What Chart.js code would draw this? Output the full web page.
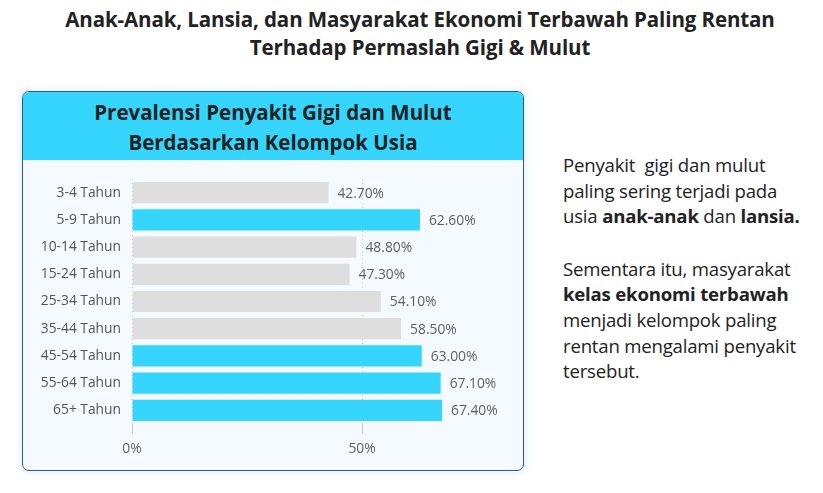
<!DOCTYPE html>
<html>
<head>
<meta charset="utf-8">
<script src="https://cdn.jsdelivr.net/npm/chart.js@4/dist/chart.umd.min.js"></script>
<style>
  html, body { margin: 0; padding: 0; background: #fff; }
  body { width: 823px; height: 493px; position: relative; overflow: hidden; font-family: "Open Sans", sans-serif; color: #222; }
  .title { position: absolute; left: 0; top: 5px; width: 840px; text-align: center; font-weight: 700; font-size: 20.5px; line-height: 28px; color: #222; letter-spacing: -0.1px; }
  .card { position: absolute; left: 22px; top: 91px; width: 500px; height: 378px; border: 1.5px solid #2a5a96; border-radius: 7px; background: #f4faff; box-shadow: 0 0 10px rgba(150,190,230,0.35); overflow: hidden; }
  .card .head { height: 68px; background: #35d5fe; text-align: center; font-weight: 700; font-size: 20.5px; line-height: 30px; padding-top: 5px; box-sizing: border-box; color: #222; }
  .card canvas { position: absolute; left: 0; top: 68px; }
  .side { position: absolute; left: 563px; top: 152px; width: 260px; font-size: 18.6px; line-height: 25.6px; color: #222; white-space: nowrap; letter-spacing: -0.2px; }
  .side p { margin: 0 0 27px 0; }
</style>
</head>
<body>
<div class="title">Anak-Anak, Lansia, dan Masyarakat Ekonomi Terbawah Paling Rentan<br>Terhadap Permaslah Gigi &amp; Mulut</div>
<div class="card">
  <div class="head">Prevalensi Penyakit Gigi dan Mulut<br>Berdasarkan Kelompok Usia</div>
  <canvas id="chart" width="500" height="310"></canvas>
</div>
<div class="side">
  <p>Penyakit&nbsp; gigi dan mulut<br>paling sering terjadi pada<br>usia <b>anak-anak</b> dan <b>lansia.</b></p>
  <p>Sementara itu, masyarakat<br><b>kelas ekonomi terbawah</b><br>menjadi kelompok paling<br>rentan mengalami penyakit<br>tersebut.</p>
</div>
<script>
  const ageGroups = ['3-4 Tahun', '5-9 Tahun', '10-14 Tahun', '15-24 Tahun', '25-34 Tahun', '35-44 Tahun', '45-54 Tahun', '55-64 Tahun', '65+ Tahun'];
  const prevalence = [42.7, 62.6, 48.8, 47.3, 54.1, 58.5, 63.0, 67.1, 67.4];
  const highlighted = [false, true, false, false, false, false, true, true, true];
  const xTicks = [0, 50];

  const CYAN = '#35d5fe';
  const GREY = '#dedede';

  // draws "42.70%" after each bar end
  const valueLabels = {
    id: 'valueLabels',
    afterDatasetsDraw(chart) {
      const ctx = chart.ctx;
      const meta = chart.getDatasetMeta(0);
      ctx.save();
      ctx.font = '13.8px "Open Sans", sans-serif';
      ctx.fillStyle = '#606060';
      ctx.textAlign = 'left';
      ctx.textBaseline = 'middle';
      meta.data.forEach((bar, i) => {
        ctx.fillText(prevalence[i].toFixed(2) + '%', bar.x + 9, bar.y + 1);
      });
      ctx.restore();
    }
  };

  new Chart(document.getElementById('chart'), {
    type: 'bar',
    data: {
      labels: ageGroups,
      datasets: [{
        data: prevalence,
        backgroundColor: highlighted.map(h => h ? CYAN : GREY),
        borderWidth: 0,
        barPercentage: 0.78,
        categoryPercentage: 1
      }]
    },
    options: {
      indexAxis: 'y',
      responsive: false,
      animation: false,
      layout: { padding: { top: 19, right: 23, left: 0, bottom: 0 } },
      plugins: { legend: { display: false }, tooltip: { enabled: false } },
      scales: {
        x: {
          min: 0,
          max: 80,
          afterBuildTicks(axis) { axis.ticks = xTicks.map(v => ({ value: v })); },
          afterFit(axis) { axis.height = 46; },
          border: { display: false, dash: [1, 3] },
          grid: { color: '#c8c8c8', lineWidth: 1, tickLength: 10, drawTicks: true, tickColor: '#c8c8c8' },
          ticks: {
            padding: 7,
            color: '#606060',
            font: { family: 'Open Sans', size: 13.8 },
            callback: v => v + '%'
          }
        },
        y: {
          afterFit(axis) { axis.width = 109; },
          border: { display: false },
          grid: { display: false },
          ticks: {
            padding: 3,
            color: '#555',
            font: { family: 'Open Sans', size: 13.8 }
          }
        }
      }
    },
    plugins: [valueLabels]
  });
</script>
</body>
</html>
